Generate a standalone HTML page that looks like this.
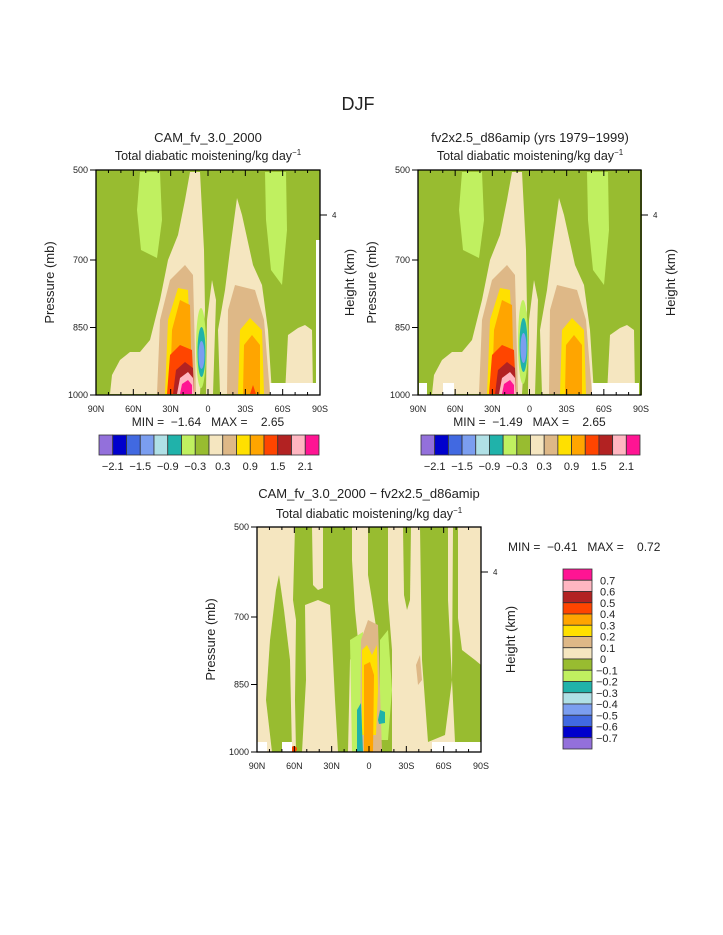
<!DOCTYPE html>
<html><head><meta charset="utf-8"><style>
html,body{margin:0;padding:0;background:#fff;}
svg{display:block;font-family:"Liberation Sans",sans-serif;}
text{fill:#222;white-space:pre;}
</style></head><body>
<svg id="s" width="723" height="935" viewBox="0 0 723 935">
<text x="358" y="110" font-size="18" text-anchor="middle" fill="#444">DJF</text>

<!-- Panel 1 -->
<g id="p1">
<text x="208" y="142" font-size="13" text-anchor="middle">CAM_fv_3.0_2000</text>
<text x="208" y="160" font-size="12.5" text-anchor="middle">Total diabatic moistening/kg day<tspan dy="-5" font-size="8">−1</tspan></text>
<g>
<rect x="96" y="170" width="224" height="225" fill="#98BC30"/>
<path d="M140,172 L160,172 L162,220 L157,258 L141,250 L137,210Z" fill="#C0F060"/>
<path d="M265,172 L286,172 L287,230 L282,285 L271,270 L266,220Z" fill="#C0F060"/>
<path d="M190,172 L200,172 L204,250 L205,310 L200,394 L110,394 L112,375 L120,360 L130,352 L140,352 L150,340 L160,300 L168,260 L178,235 L185,200Z" fill="#F5E6C0"/>
<path d="M237,198 L242,215 L253,265 L262,285 L268,330 L272,394 L220,394 L218,330 L225,290 L230,250Z" fill="#F5E6C0"/>
<path d="M212,280 L216,300 L213,394 L206,394 L207,320Z" fill="#F5E6C0"/>
<path d="M288,335 L298,328 L305,325 L312,330 L313,394 L285,394Z" fill="#F5E6C0"/>
<path d="M157,394 L160,320 L170,280 L185,265 L193,275 L196,394Z" fill="#DEB887"/>
<path d="M227,394 L228,310 L235,285 L255,290 L264,320 L270,394Z" fill="#DEB887"/>
<path d="M165,394 L168,320 L178,288 L188,290 L192,394Z" fill="#FFE000"/>
<path d="M238,394 L240,330 L250,318 L262,330 L264,394Z" fill="#FFE000"/>
<path d="M170,394 L172,330 L180,300 L190,305 L192,394Z" fill="#FFA500"/>
<path d="M243,394 L244,345 L252,335 L260,345 L260,394Z" fill="#FFA500"/>
<path d="M167,394 L170,355 L180,345 L192,350 L194,394Z" fill="#FF4500"/>
<path d="M173,394 L176,370 L185,362 L193,368 L194,394Z" fill="#B22222"/>
<path d="M177,394 L180,378 L188,372 L193,378 L194,394Z" fill="#FFB6C1"/>
<path d="M180,394 L182,384 L188,380 L192,385 L192,394Z" fill="#FF1493"/>
<path d="M250,394 L253,385 L256,394Z" fill="#FF4500"/>
<ellipse cx="201" cy="348" rx="5" ry="40" fill="#C0F060"/>
<ellipse cx="201.5" cy="352" rx="4" ry="25" fill="#20B2AA"/>
<ellipse cx="201.5" cy="355" rx="3" ry="14" fill="#7B9EF0"/>
<rect x="270" y="383" width="47" height="12" fill="#fff"/>
<rect x="316" y="240" width="5" height="155" fill="#fff"/>
</g>
<rect x="96" y="170" width="224" height="225" fill="none" stroke="#000" stroke-width="1.3"/>
</g>

<!-- Panel 2 -->
<g id="p2">
<text x="530" y="142" font-size="13" text-anchor="middle">fv2x2.5_d86amip (yrs 1979−1999)</text>
<text x="530" y="160" font-size="12.5" text-anchor="middle">Total diabatic moistening/kg day<tspan dy="-5" font-size="8">−1</tspan></text>
<g transform="translate(322,0)">
<rect x="96" y="170" width="224" height="225" fill="#98BC30"/>
<path d="M140,172 L160,172 L162,220 L157,258 L141,250 L137,210Z" fill="#C0F060"/>
<path d="M265,172 L286,172 L287,230 L282,285 L271,270 L266,220Z" fill="#C0F060"/>
<path d="M190,172 L200,172 L204,250 L205,310 L200,394 L110,394 L112,375 L120,360 L130,352 L140,352 L150,340 L160,300 L168,260 L178,235 L185,200Z" fill="#F5E6C0"/>
<path d="M237,198 L242,215 L253,265 L262,285 L268,330 L272,394 L220,394 L218,330 L225,290 L230,250Z" fill="#F5E6C0"/>
<path d="M212,280 L216,300 L213,394 L206,394 L207,320Z" fill="#F5E6C0"/>
<path d="M288,335 L298,328 L305,325 L312,330 L313,394 L285,394Z" fill="#F5E6C0"/>
<path d="M157,394 L160,320 L170,280 L185,265 L193,275 L196,394Z" fill="#DEB887"/>
<path d="M227,394 L228,310 L235,285 L255,290 L264,320 L270,394Z" fill="#DEB887"/>
<path d="M165,394 L168,320 L178,288 L188,290 L192,394Z" fill="#FFE000"/>
<path d="M238,394 L240,330 L250,318 L262,330 L264,394Z" fill="#FFE000"/>
<path d="M170,394 L172,330 L180,300 L190,305 L192,394Z" fill="#FFA500"/>
<path d="M243,394 L244,345 L252,335 L260,345 L260,394Z" fill="#FFA500"/>
<path d="M167,394 L170,355 L180,345 L192,350 L194,394Z" fill="#FF4500"/>
<path d="M173,394 L176,370 L185,362 L193,368 L194,394Z" fill="#B22222"/>
<path d="M177,394 L180,378 L188,372 L193,378 L194,394Z" fill="#FFB6C1"/>
<path d="M180,394 L182,384 L188,380 L192,385 L192,394Z" fill="#FF1493"/>
<ellipse cx="201" cy="342" rx="5" ry="42" fill="#C0F060"/>
<ellipse cx="201.5" cy="345" rx="4" ry="27" fill="#20B2AA"/>
<ellipse cx="201.5" cy="348" rx="3" ry="15" fill="#7B9EF0"/>
<rect x="270" y="383" width="47" height="12" fill="#fff"/>
<rect x="97" y="383" width="8" height="12" fill="#fff"/>
<rect x="121" y="383" width="11" height="12" fill="#fff"/>
</g>
<rect x="418" y="170" width="223" height="225" fill="none" stroke="#000" stroke-width="1.3"/>
</g>

<!-- Panel 3 -->
<g id="p3">
<text x="369" y="498" font-size="13" text-anchor="middle">CAM_fv_3.0_2000 − fv2x2.5_d86amip</text>
<text x="369" y="518" font-size="12.5" text-anchor="middle">Total diabatic moistening/kg day<tspan dy="-5" font-size="8">−1</tspan></text>
<g>
<rect x="257" y="527" width="224" height="225" fill="#F5E6C0"/>
<path d="M272,752 L266,700 L270,640 L276,590 L279,575 L284,610 L290,660 L292,752Z" fill="#98BC30"/>
<path d="M295,527 L312,527 L313,585 L318,590 L323,588 L323,527 L352,527 L352,560 L355,610 L358,640 L350,660 L348,752 L338,752 L335,700 L332,640 L330,605 L318,600 L305,605 L306,680 L302,752 L296,752 L295,700 L296,620 L293,600Z" fill="#98BC30"/>
<path d="M368,527 L388,527 L388,600 L392,650 L392,752 L380,752 L378,640 L372,600 L368,575Z" fill="#98BC30"/>
<path d="M403,527 L411,527 L410,600 L407,610 L404,595Z" fill="#98BC30"/>
<path d="M420,527 L448,527 L448,600 L452,680 L445,735 L428,742 L422,660Z" fill="#98BC30"/>
<path d="M453,527 L458,527 L458,618 L462,650 L475,660 L481,665 L481,742 L455,742 L452,680Z" fill="#98BC30"/>
<path d="M350,640 L363,632 L363,752 L352,752Z" fill="#C0F060"/>
<path d="M380,640 L388,630 L392,690 L388,740 L380,740Z" fill="#C0F060"/>
<path d="M360,752 L361,640 L368,620 L378,625 L382,752Z" fill="#DEB887"/>
<path d="M362,735 L362,650 L367,645 L372,655 L377,645 L378,690 L376,735Z" fill="#FFE000"/>
<path d="M364,752 L364,665 L370,662 L374,675 L373,752Z" fill="#FFA500"/>
<path d="M357,752 L357,710 L361,703 L363,752Z" fill="#20B2AA"/>
<path d="M378,720 L380,710 L385,712 L385,723 L379,724Z" fill="#20B2AA"/>
<path d="M416,665 L420,655 L422,680 L418,685Z" fill="#DEB887"/>
<circle cx="294" cy="749" r="3" fill="#FF4500"/>
<rect x="257" y="742" width="10" height="10" fill="#fff"/>
<rect x="282" y="742" width="10" height="10" fill="#fff"/>
<rect x="432" y="742" width="49" height="10" fill="#fff"/>
</g>
<rect x="257" y="527" width="224" height="225" fill="none" stroke="#000" stroke-width="1.3"/>
</g>
<g id="dyn"></g>
</svg>
<script>
const latLabels=["90N","60N","30N","0","30S","60S","90S"];
const presLabels=["500","700","850","1000"];
const presFrac=[0,0.4,0.7,1];
const cbColors=["#9370DB","#0000CD","#4169E1","#7B9EF0","#B0E0E6","#20B2AA","#C0F060","#98BC30","#F5E6C0","#DEB887","#FFE000","#FFA500","#FF4500","#B22222","#FFB6C1","#FF1493"];
const cbLabels=["−2.1","−1.5","−0.9","−0.3","0.3","0.9","1.5","2.1"];
const diffLabels=["0.7","0.6","0.5","0.4","0.3","0.2","0.1","0","−0.1","−0.2","−0.3","−0.4","−0.5","−0.6","−0.7"];
const panelMin=["−1.64","−1.49","−0.41"];
const panelMax=["2.65","2.65","0.72"];
const NS="http://www.w3.org/2000/svg";
const g=document.getElementById('dyn');
function mk(t,a,txt){const e=document.createElementNS(NS,t);for(const k in a)e.setAttribute(k,a[k]);if(txt!==undefined)e.textContent=txt;g.appendChild(e);return e;}
const panels=[{x:96,y:170,w:224,h:225},{x:418,y:170,w:223,h:225},{x:257,y:527,w:224,h:225}];
panels.forEach((p,pi)=>{
  for(let i=0;i<=18;i++){const x=p.x+p.w*i/18;const L=i%3==0?6:3;
    let e=mk('line',{x1:x,x2:x,y1:p.y,y2:p.y+L,stroke:'#000','stroke-width':1});
    
    e=mk('line',{x1:x,x2:x,y1:p.y+p.h,y2:p.y+p.h-L,stroke:'#000','stroke-width':1});
    }
  latLabels.forEach((l,i)=>{const t=mk('text',{x:p.x+p.w*i/6,y:p.y+p.h+17,'font-size':9,'text-anchor':'middle'},l);
    });
  presLabels.forEach((l,i)=>{const y=p.y+p.h*presFrac[i];
    let e=mk('line',{x1:p.x-6,x2:p.x,y1:y,y2:y,stroke:'#000','stroke-width':1});
    
    const t=mk('text',{x:p.x-8,y:y+3,'font-size':9,'text-anchor':'end'},l);
    });
  const hy=p.y+45;
  let e=mk('line',{x1:p.x+p.w,x2:p.x+p.w+7,y1:hy,y2:hy,stroke:'#000','stroke-width':1});
  
  e=mk('text',{x:p.x+p.w+12,y:hy+3,'font-size':8},'4');
  
  const cy=p.y+p.h/2;
  e=mk('text',{transform:`translate(${p.x-42},${cy}) rotate(-90)`,'font-size':13,'text-anchor':'middle',fill:'#333'},'Pressure (mb)');
  
  e=mk('text',{transform:`translate(${p.x+p.w+34},${cy}) rotate(-90)`,'font-size':13,'text-anchor':'middle',fill:'#333'},'Height (km)');
  
  const mm=pi<2?{x:p.x+p.w/2,y:p.y+p.h+31,a:'middle'}:{x:p.x+p.w+27,y:551,a:'start'};
  e=mk('text',{x:mm.x,y:mm.y,'font-size':12,'text-anchor':mm.a},`MIN =  ${panelMin[pi]}   MAX =    ${panelMax[pi]}`);
  
  if(pi<2){
    const x0=p.x+3,cw=(p.w-4)/16;
    cbColors.forEach((c,i)=>{const r=mk('rect',{x:x0+i*cw,y:435,width:cw,height:20,fill:c,stroke:'#333','stroke-width':0.8});
      });
    cbLabels.forEach((l,i)=>{const t=mk('text',{x:x0+(2*i+1)*cw,y:470,'font-size':11,'text-anchor':'middle'},l);
      });
  } else {
    const y0=569,ch=11.25;
    cbColors.slice().reverse().forEach((c,i)=>{const r=mk('rect',{x:563,y:y0+i*ch,width:29,height:ch,fill:c,stroke:'#333','stroke-width':0.8});
      });
    diffLabels.forEach((l,i)=>{const t=mk('text',{x:l.startsWith('−')?596:600,y:y0+(i+1)*ch+4,'font-size':11},l);
      });
  }
});
</script>
</body></html>
